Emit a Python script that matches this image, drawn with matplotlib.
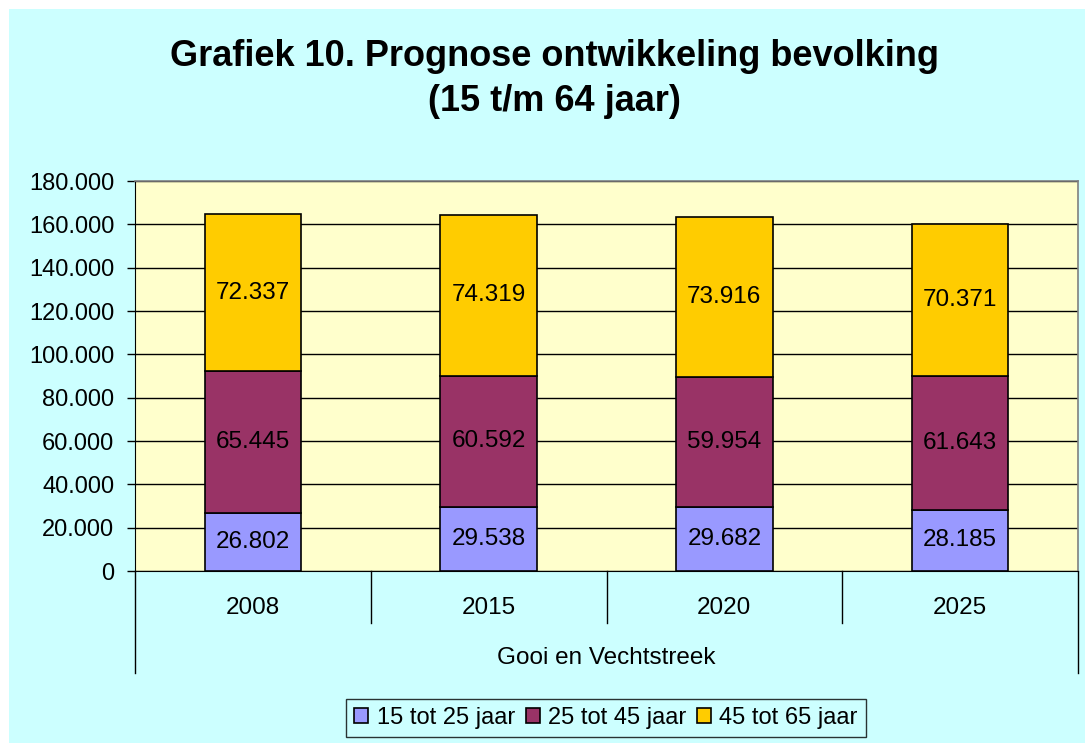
import matplotlib.pyplot as plt
from matplotlib.patches import Rectangle
import numpy as np

plt.rcParams['font.family'] = ['Liberation Sans', 'DejaVu Sans']

# data
years = ['2008', '2015', '2020', '2025']
groep_15_25 = [26802, 29538, 29682, 28185]
groep_25_45 = [65445, 60592, 59954, 61643]
groep_45_65 = [72337, 74319, 73916, 70371]
series_names = ['15 tot 25 jaar', '25 tot 45 jaar', '45 tot 65 jaar']
colors = ['#9999FF', '#993366', '#FFCC00']
yticks = [0, 20000, 40000, 60000, 80000, 100000, 120000, 140000, 160000, 180000]


def nl_fmt(v):
    return f"{v:,}".replace(',', '.')


W, H = 1085, 743
fig = plt.figure(figsize=(W / 100, H / 100), dpi=100, facecolor='white')
# cyan chart area (white strip at top and left)
fig.patches.append(Rectangle((9 / W, 0), 1 - 9 / W, 1 - 9 / H, transform=fig.transFigure,
                             facecolor='#CCFFFF', edgecolor='none', zorder=-10))

ax = fig.add_axes([135 / W, (H - 571) / H, 943 / W, 390 / H])
ax.set_facecolor('#FFFFCC')

x = np.arange(len(years))
bottom = np.zeros(len(years))
for vals, name, c in zip([groep_15_25, groep_25_45, groep_45_65], series_names, colors):
    vals = np.array(vals)
    ax.bar(x, vals, width=0.41, bottom=bottom, color=c, edgecolor='black',
           linewidth=1.2, label=name, zorder=3)
    for xi, b, v in zip(x, bottom, vals):
        ax.text(xi, b + v / 2, nl_fmt(int(v)), ha='center', va='center',
                fontsize=17.5, zorder=4)
    bottom = bottom + vals

ax.set_xlim(-0.5, len(years) - 0.5)
ax.set_ylim(0, 180000)
ax.set_yticks(yticks)
ax.set_yticklabels([nl_fmt(v) for v in yticks], fontsize=17)
ax.yaxis.grid(True, color='black', linewidth=1)
ax.set_axisbelow(True)
ax.tick_params(axis='y', direction='out', length=6, width=1, pad=9)

ax.set_xticks(x)
ax.set_xticklabels(years, fontsize=17.5)
ax.tick_params(axis='x', length=0, pad=19)

for side in ['top', 'right']:
    ax.spines[side].set_color('#808080')
    ax.spines[side].set_linewidth(1.2)
ax.spines['left'].set_color('black')
ax.spines['bottom'].set_color('black')

# category axis lines below the plot
tr = ax.get_xaxis_transform()
for xs in [0.5, 1.5, 2.5]:
    ax.plot([xs, xs], [0, -52 / 390], color='black', lw=1, transform=tr, clip_on=False)
for xs in [-0.5, 3.5]:
    ax.plot([xs, xs], [0, -102 / 390], color='black', lw=1, transform=tr, clip_on=False)

ax.text(1.5, -87 / 390, 'Gooi en Vechtstreek', transform=tr, ha='center', va='center',
        fontsize=17.5)

fig.text(554 / W, 1 - 66 / H, 'Grafiek 10. Prognose ontwikkeling bevolking',
         ha='center', va='baseline', fontsize=26, fontweight='bold')
fig.text(554 / W, 1 - 111 / H, '(15 t/m 64 jaar)',
         ha='center', va='baseline', fontsize=26, fontweight='bold')

leg = fig.legend(loc='center', bbox_to_anchor=(606 / W, 1 - 718 / H), ncol=3,
                 fontsize=17, frameon=True, fancybox=False, handlelength=0.6,
                 handleheight=0.6, handletextpad=0.35, columnspacing=0.45,
                 borderpad=0.35, borderaxespad=0)
leg.get_frame().set_edgecolor('black')
leg.get_frame().set_facecolor('#CCFFFF')
leg.get_frame().set_linewidth(1)

fig.savefig('out.png', dpi=100)
